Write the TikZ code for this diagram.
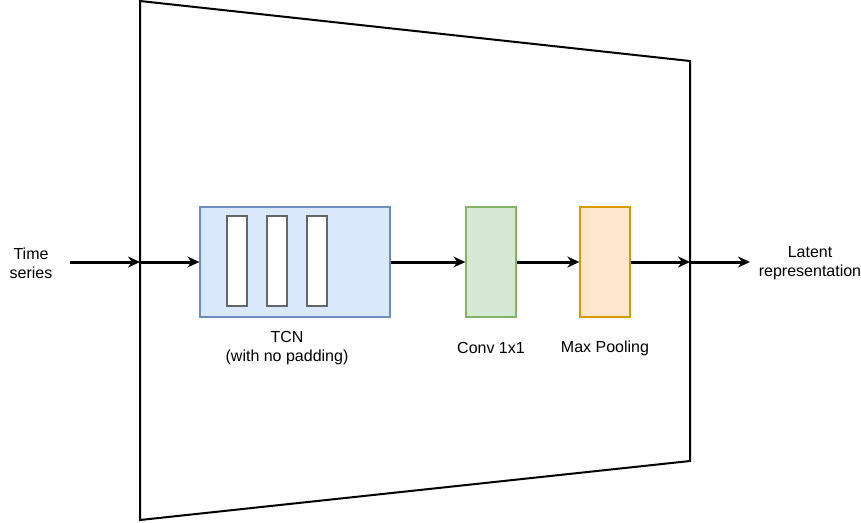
\documentclass[tikz,border=0pt]{standalone}
\usepackage{fontspec}
\setmainfont{Liberation Sans}
\usepackage{xcolor}
\usepackage{tikz}
\usetikzlibrary{arrows.meta}

\definecolor{tcnfill}{HTML}{DAE8FC}
\definecolor{tcnline}{HTML}{6C8EBF}
\definecolor{convfill}{HTML}{D5E8D4}
\definecolor{convline}{HTML}{82B366}
\definecolor{poolfill}{HTML}{FFE6CC}
\definecolor{poolline}{HTML}{D79B00}
\definecolor{barline}{HTML}{666666}

\tikzset{
	block/.style={draw, line width=1.3, inner sep=0, minimum width=50, minimum height=110},
	bar/.style={draw=barline, fill=white, line width=1.2, inner sep=0, minimum width=20, minimum height=90},
	label/.style={align=center, inner sep=0},
	flow/.style={->, line width=3},
}

\begin{document}
\begin{tikzpicture}[x=1pt, y=-1pt, font=\fontsize{16}{19}\selectfont,
	>={Stealth[length=12pt, width=11pt, inset=4pt]}]

\useasboundingbox (0,0) rectangle (861,522);

% encoder outline
\draw[line width=2, line join=miter] (140,1)--(690,61)--(690,461)--(140,520)--cycle;

\coordinate (inL) at (140,262);
\coordinate (outR) at (690,262);
\coordinate (tsEnd) at (70,262);
\coordinate (latEnd) at (750,262);

% blocks
\node[block, fill=tcnfill, draw=tcnline, minimum width=190] (tcn) at (295,262) {};
\foreach \i in {0,1,2}{
	\node[bar] (bar\i) at (237+40*\i,261) {};
}
\node[block, fill=convfill, draw=convline] (conv) at (491,262) {};
\node[block, fill=poolfill, draw=poolline] (pool) at (605,262) {};

% texts
\node[label] (ts) at (31,263) {Time\\series};
\node[label] (lat) at (810,263) {Latent\\representation};
\node[label] (tcnTxt) at (287,348) {TCN\\(with no padding)};
\node[label] (convTxt) at (491,348) {Conv 1x1};
\node[label] (poolTxt) at (605,348) {Max Pooling};

% arrows
\draw[flow] (tsEnd)--(inL);
\draw[flow] (inL)--(tcn.west);
\draw[flow] (tcn.east)--(conv.west);
\draw[flow] (conv.east)--(pool.west);
\draw[flow] (pool.east)--(outR);
\draw[flow] (outR)--(latEnd);

\end{tikzpicture}
\end{document}
